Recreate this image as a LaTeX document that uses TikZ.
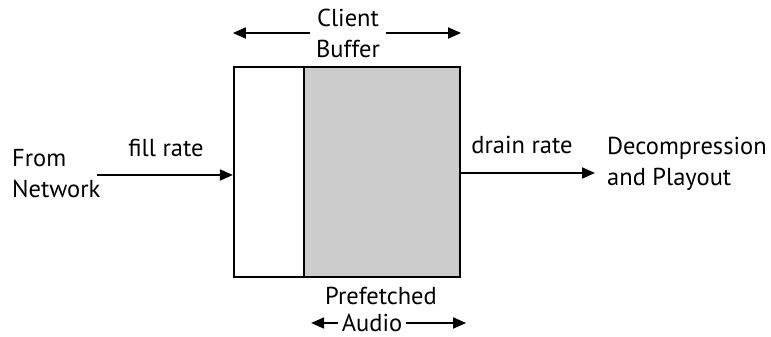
\documentclass[tikz,border=0pt]{standalone}
\usepackage{fontspec}
\setmainfont{PT Sans}
\usetikzlibrary{arrows.meta,positioning}

\begin{document}
\begin{tikzpicture}[
  x=1pt,y=-1pt,
  lbl/.style={font=\fontsize{24.5}{31}\selectfont,inner sep=0pt},
  part/.style={draw,line width=2.2pt,minimum height=210pt,inner sep=0pt},
  arr/.style={line width=1.8pt,-{Triangle[length=13pt,width=11pt]}},
  >=Latex]
\useasboundingbox (0,0) rectangle (771,337);
% buffer
\node[part,minimum width=70pt] (empty) at (269,172) {};
\node[part,minimum width=156pt,fill=black!20] (full) at (382,172) {};
% labels
\node[lbl,align=left,anchor=west] (from) at (12,174) {From\\Network};
\node[lbl] (fill) at (166,148) {fill rate};
\node[lbl] (drain) at (522,145) {drain rate};
\node[lbl,align=left,anchor=west] (dec) at (607,164) {Decompression\\and Playout};
\node[lbl,align=center] (cb) at (348,33) {Client\\Buffer};
\node[lbl] (pf) at (381,296) {Prefetched};
\node[lbl] (au) at (372,323) {Audio};
% arrows
\coordinate (inL) at (97,175);
\coordinate (outR) at (595,173);
\draw[arr] (inL) -- (inL -| empty.west);
\draw[arr] (outR -| full.east) -- (outR);
\draw[arr] ([xshift=-6pt]cb.west) -- (cb.west -| empty.west);
\draw[arr] ([xshift=6pt]cb.east) -- (cb.east -| full.east);
\draw[arr] ([xshift=-4pt]au.west) -- ([xshift=6pt]au.west -| empty.east);
\draw[arr] ([xshift=4pt]au.east) -- ([xshift=5pt]au.east -| full.east);
\end{tikzpicture}
\end{document}
